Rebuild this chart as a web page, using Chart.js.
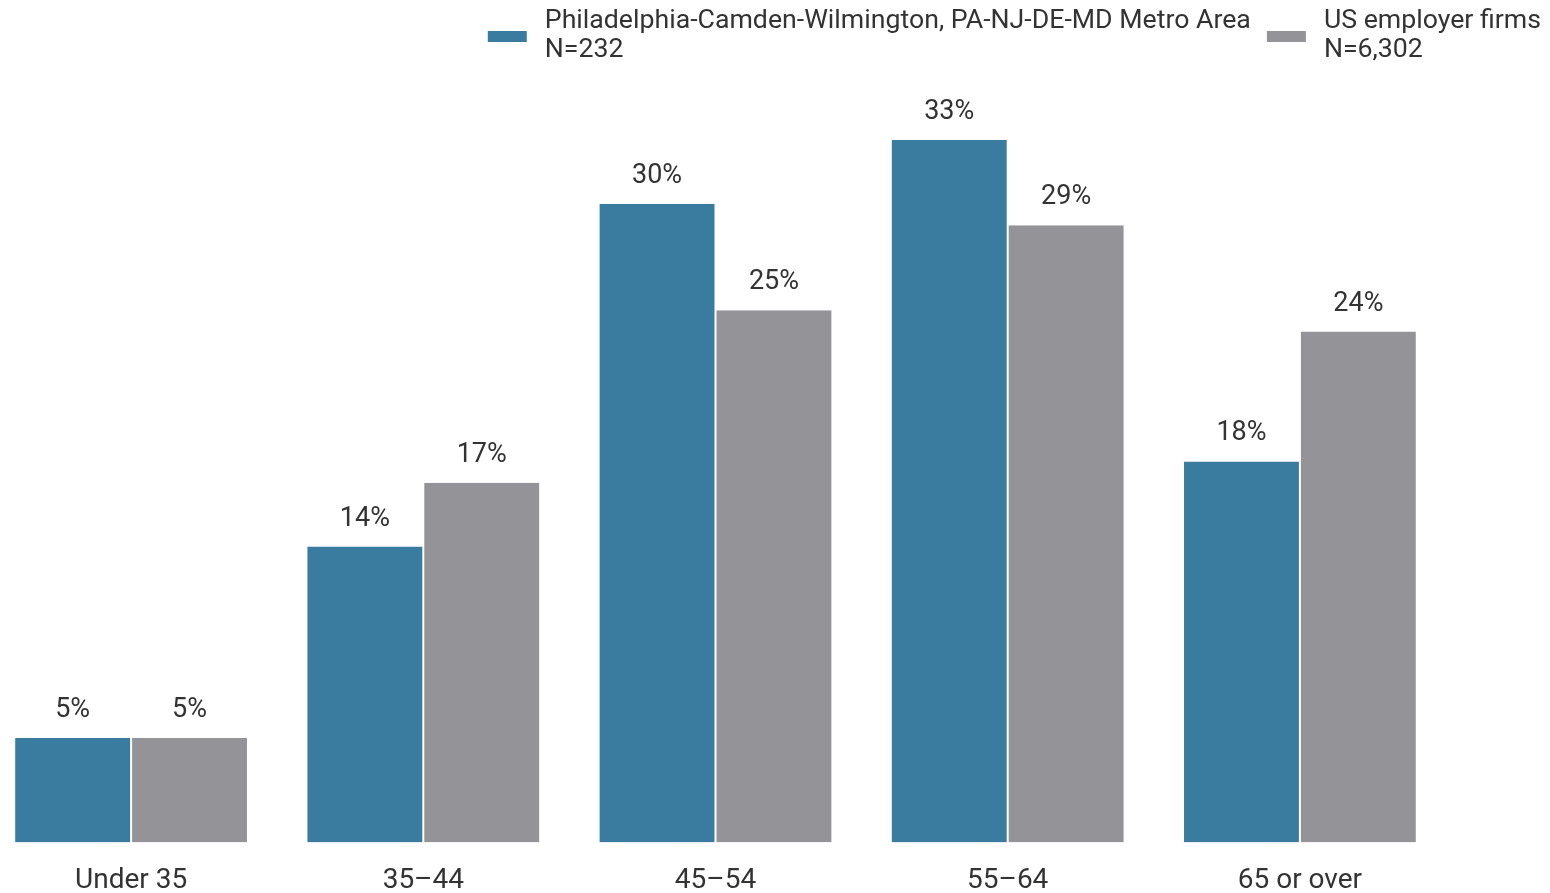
<!DOCTYPE html>
<html>
<head>
<meta charset="utf-8">
<script src="https://cdn.jsdelivr.net/npm/chart.js@4"></script>
<style>
  html, body { margin: 0; padding: 0; background: #ffffff; overflow: hidden; width: 1550px; height: 893px; }
  #wrap { position: absolute; left: -15px; top: 0; width: 1565px; height: 920px; }
</style>
</head>
<body>
<div id="wrap"><canvas id="c"></canvas></div>
<script>
const categories = ['Under 35', '35\u201344', '45\u201354', '55\u201364', '65 or over'];
const seriesNames = ['Philadelphia-Camden-Wilmington, PA-NJ-DE-MD Metro Area', 'US employer firms'];
const seriesN = ['N=232', 'N=6,302'];
const phillyValues = [4.9, 13.9, 30.0, 33.0, 17.9];
const usValues = [4.9, 16.9, 25.0, 29.0, 24.0];
const seriesColors = ['#3a7ca0', '#949498'];

const TEXT = '#333333';
const FONT = 'Roboto';

const valueLabels = {
  id: 'valueLabels',
  afterDatasetsDraw(chart) {
    const ctx = chart.ctx;
    ctx.save();
    ctx.font = '27px ' + FONT;
    ctx.fillStyle = TEXT;
    ctx.textAlign = 'center';
    ctx.textBaseline = 'alphabetic';
    chart.data.datasets.forEach((ds, di) => {
      const meta = chart.getDatasetMeta(di);
      meta.data.forEach((el, i) => {
        ctx.fillText(Math.round(ds.data[i]) + '%', el.x, el.y - 21);
      });
    });
    ctx.restore();
  }
};

// Two-line legend, right aligned at the top of the canvas
const twoLineLegend = {
  id: 'twoLineLegend',
  afterDraw(chart) {
    const ctx = chart.ctx;
    const offsetLeft = 15; // canvas is shifted 15px left of the page
    const rightEdge = 1541 + offsetLeft;
    const boxW = 39, boxH = 11, boxGap = 18, itemGap = 16;
    const line1 = 27.5, line2 = 56.5, boxTop = 31;
    ctx.save();
    ctx.font = '26.7px ' + FONT;
    ctx.textAlign = 'left';
    ctx.textBaseline = 'alphabetic';
    let x = rightEdge;
    for (let i = chart.data.datasets.length - 1; i >= 0; i--) {
      const w = Math.max(ctx.measureText(seriesNames[i]).width, ctx.measureText(seriesN[i]).width);
      const textLeft = x - w;
      const boxLeft = textLeft - boxGap - boxW;
      ctx.fillStyle = seriesColors[i];
      ctx.fillRect(boxLeft, boxTop, boxW, boxH);
      ctx.fillStyle = TEXT;
      ctx.fillText(seriesNames[i], textLeft, line1);
      ctx.fillText(seriesN[i], textLeft, line2);
      x = boxLeft - itemGap;
    }
    ctx.restore();
  }
};

new Chart(document.getElementById('c'), {
  type: 'bar',
  data: {
    labels: categories,
    datasets: [
      { label: seriesNames[0], data: phillyValues, backgroundColor: seriesColors[0],
        borderColor: '#ffffff', borderWidth: {left: 1, right: 1, top: 0, bottom: 0}, borderSkipped: false },
      { label: seriesNames[1], data: usValues, backgroundColor: seriesColors[1],
        borderColor: '#ffffff', borderWidth: {left: 1, right: 1, top: 0, bottom: 0}, borderSkipped: false }
    ]
  },
  options: {
    responsive: true,
    maintainAspectRatio: false,
    animation: false,
    devicePixelRatio: 1,
    layout: { padding: { top: 90, left: 0, right: 0, bottom: 0 } },
    datasets: { bar: { categoryPercentage: 0.8, barPercentage: 1.0 } },
    plugins: {
      tooltip: { enabled: false },
      legend: { display: false }
    },
    scales: {
      x: {
        grid: { display: false, drawTicks: false },
        border: { display: false },
        ticks: { color: TEXT, font: { family: FONT, size: 28 }, padding: 22 }
      },
      y: {
        position: 'right',
        min: 0,
        max: 35.35,
        grid: { display: false, drawTicks: false },
        border: { display: false },
        ticks: { display: false },
        afterFit(axis) { axis.width = 104; }
      }
    }
  },
  plugins: [valueLabels, twoLineLegend]
});
</script>
</body>
</html>
